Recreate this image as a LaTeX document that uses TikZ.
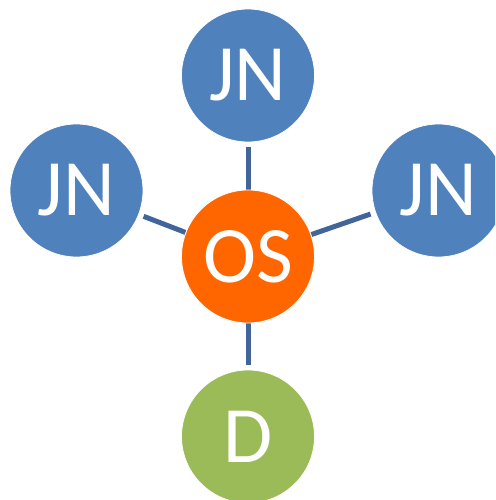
\documentclass[tikz,border=0pt]{standalone}
\usepackage{fontspec}
\setmainfont{Carlito}
\usetikzlibrary{backgrounds}
\definecolor{jnblue}{HTML}{4F81BD}
\definecolor{osorange}{HTML}{FF6600}
\definecolor{dgreen}{HTML}{9BBB59}
\definecolor{linkblue}{HTML}{41659A}
\tikzset{
  ball/.style={circle, minimum size=133pt, inner sep=0pt, draw=white, line width=0.8pt,
    text=white, font=\fontsize{80}{80}\selectfont},
  link/.style={draw=linkblue, line width=5pt, shorten <=5pt}
}
\begin{document}
\begin{tikzpicture}[x=1pt,y=-1pt]
\useasboundingbox (0,0) rectangle (495,500);
\clip (0,0) rectangle (495,500);
\node[ball, fill=osorange] (os) at (248,256.5) {OS};
\node[ball, fill=jnblue] (top) at (248,75.5) {JN};
\node[ball, fill=jnblue] (left) at (76.5,190.5) {JN};
\node[ball, fill=jnblue] (right) at (438.5,190.5) {JN};
\node[ball, fill=dgreen] (d) at (248,436.5) {D};
\begin{scope}[on background layer]
\draw[link] (top) -- (os);
\draw[link] (left) -- (os);
\draw[link] (right) -- (os);
\draw[link] (d) -- (os);
\end{scope}
\end{tikzpicture}
\end{document}
